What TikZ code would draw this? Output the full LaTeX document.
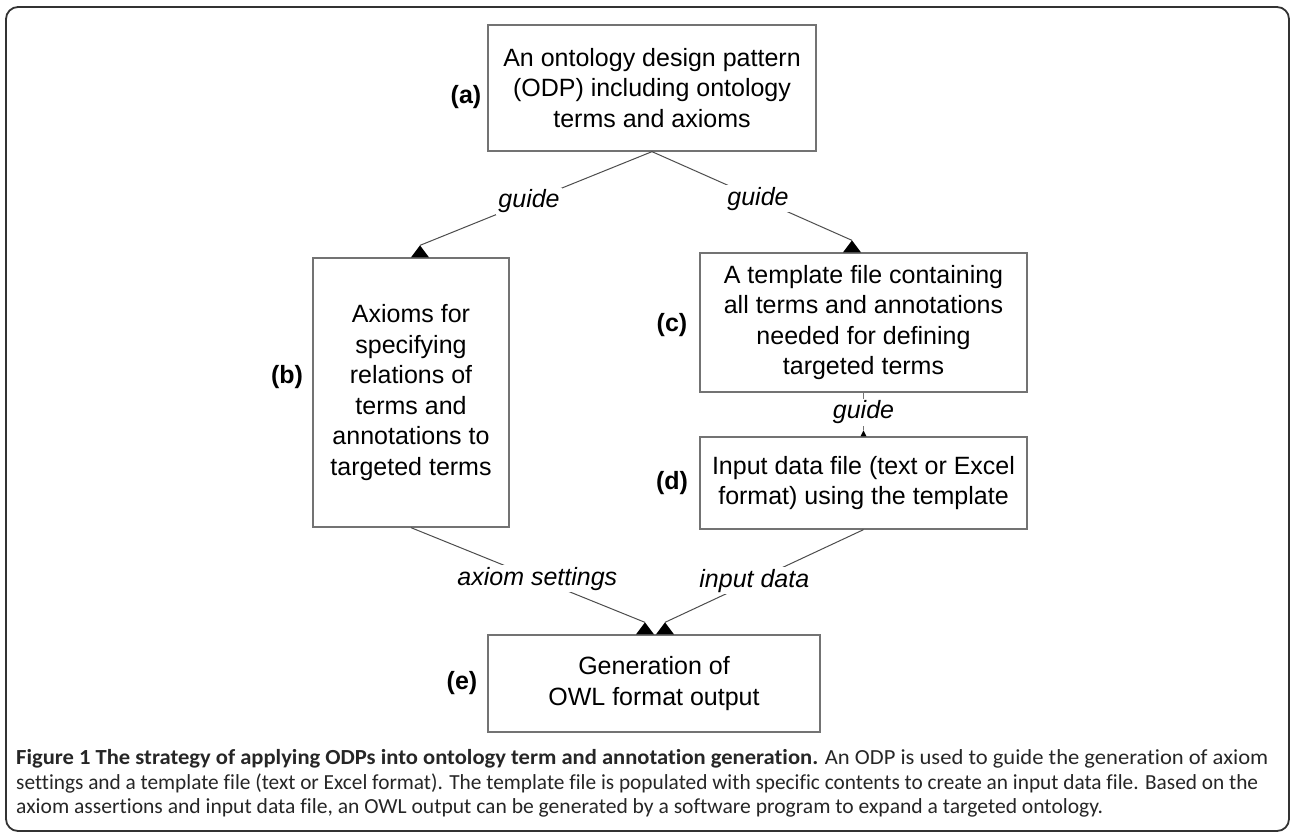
\documentclass[tikz,border=0pt]{standalone}
\usepackage{fontspec}
\usepackage{graphicx}
\setmainfont{Liberation Sans}
\newfontfamily\capfont[Ligatures=NoCommon]{Carlito}
\usetikzlibrary{calc}
\definecolor{boxgray}{gray}{0.45}
\definecolor{linegray}{gray}{0.3}
\definecolor{framegray}{gray}{0.2}
\newcommand\fitline[2]{\resizebox{#1}{\height}{#2}}
\begin{document}
\begin{tikzpicture}[x=1pt,y=-1pt,
  box/.style={draw=boxgray, line width=1.3pt, align=center, inner sep=0pt, font=\fontsize{25}{30.5}\selectfont},
  tag/.style={inner sep=0pt, font=\fontsize{25}{30}\selectfont\bfseries},
  conn/.style={draw=linegray, line width=1pt},
  lbl/.style={fill=white, inner sep=2pt, font=\fontsize{25}{30}\selectfont\itshape},
  captext/.style={anchor=base west, inner sep=0pt, text=black!85, font=\capfont\fontsize{21.5}{24}\selectfont}]
\useasboundingbox (0,0) rectangle (1290,833);
\draw[framegray, line width=1.8pt, rounded corners=12pt] (6,7) rectangle (1289,831);

% boxes
\node[box, minimum width=328pt, minimum height=126pt] (a) at (652,88) {An ontology design pattern\\(ODP) including ontology\\terms and axioms};
\node[box, minimum width=196pt, minimum height=269pt] (b) at (411,392.5) {Axioms for\\specifying\\relations of\\terms and\\annotations to\\targeted terms};
\node[box, minimum width=327pt, minimum height=139pt] (c) at (863.5,322.5) {A template file containing\\all terms and annotations\\needed for defining\\targeted terms};
\node[box, minimum width=327pt, minimum height=92pt] (d) at (863.5,483) {Input data file (text or Excel\\format) using the template};
\node[box, minimum width=332pt, minimum height=97pt] (e) at (654,683.5) {Generation of\\OWL format output};

% tags
\node[tag] (ta) at (466,97) {(a)};
\node[tag] (tgb) at (287,377) {(b)};
\node[tag] (tgc) at (672,325) {(c)};
\node[tag] (tgd) at (672,483) {(d)};
\node[tag] (tge) at (462,683) {(e)};

% tip coordinates
\coordinate (tb) at ($(b.north)+(9,0)$);
\coordinate (tc) at ($(c.north)+(-11.5,0)$);
\coordinate (td) at (d.north);
\coordinate (te1) at ($(e.north)+(-9,0)$);
\coordinate (te2) at ($(e.north)+(11,0)$);
\coordinate (pb) at ($(tb)+(0,-12)$);
\coordinate (pc) at ($(tc)+(0,-12)$);
\coordinate (pd) at ($(td)+(0,-6)$);
\coordinate (pe1) at ($(te1)+(0,-12)$);
\coordinate (pe2) at ($(te2)+(0,-12)$);

% connectors
\draw[conn] (a.south) -- (pb) node[lbl, pos=0.53] {guide};
\draw[conn] (a.south) -- (pc) node[lbl, pos=0.53] {guide};
\draw[conn, draw=boxgray] (c.south) -- (pd) node[lbl, pos=0.52] {guide};
\draw[conn] (b.south) -- (pe1) node[lbl, pos=0.54] {axiom settings};
\draw[conn] (d.south) -- (pe2) node[lbl, pos=0.55] {input data};

% arrow heads
\foreach \t in {tb,tc,te1,te2}{
  \fill[black] (\t) ++(-9,0) -- ++(18,0) -- ++(-9,-12) -- cycle;
}
\fill[black] (td) ++(-3,0) -- ++(6,0) -- ++(-3,-6) -- cycle;

% caption
\node[captext] (cap1) at (16,764) {\fitline{1252pt}{\textbf{Figure 1 The strategy of applying ODPs into ontology term and annotation generation.} An ODP is used to guide the generation of axiom}};
\node[captext] (cap2) at (16,789) {\fitline{1242pt}{settings and a template file (text or Excel format). The template file is populated with specific contents to create an input data file. Based on the}};
\node[captext] (cap3) at (16,813) {\fitline{1087pt}{axiom assertions and input data file, an OWL output can be generated by a software program to expand a targeted ontology.}};
\end{tikzpicture}
\end{document}
